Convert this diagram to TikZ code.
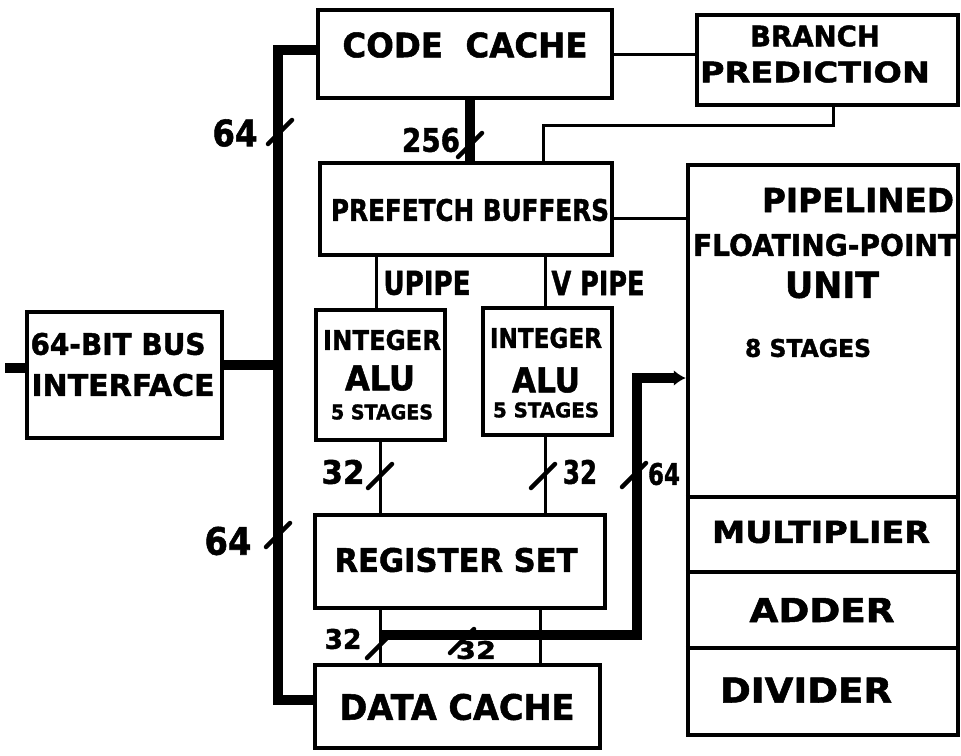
\documentclass[tikz,border=0pt]{standalone}
\usepackage{fontspec}
\setmainfont[BoldFeatures={FakeBold=1.5}]{DejaVu Sans}
\usetikzlibrary{arrows.meta}
\newcommand{\hw}[3]{\resizebox{#1pt}{#2pt}{\bfseries #3}}
\begin{document}
\begin{tikzpicture}[x=1pt,y=-1pt,
  box/.style={draw, line width=4.5pt, inner sep=0pt},
  wire/.style={line width=3pt},
  bus/.style={line width=10pt},
  tickmark/.style={line width=4.5pt, line cap=round},
  lbl/.style={inner sep=0pt}]
\useasboundingbox (0,0) rectangle (961,755);
% boxes
\node[box, minimum width=294pt, minimum height=88pt] (cc) at (465,54) {};
\node[box, minimum width=261pt, minimum height=90pt] (bp) at (827.5,60) {};
\node[box, minimum width=292pt, minimum height=92pt] (pf) at (466,209) {};
\node[box, minimum width=129pt, minimum height=130pt] (alu1) at (380.5,375) {};
\node[box, minimum width=129pt, minimum height=127pt] (alu2) at (547.5,371.5) {};
\node[box, minimum width=290pt, minimum height=93pt] (rs) at (460,561.5) {};
\node[box, minimum width=285pt, minimum height=83pt] (dc) at (457.5,706.5) {};
\node[box, minimum width=270pt, minimum height=570pt] (fpu) at (823,450) {};
\node[box, minimum width=195pt, minimum height=126pt] (biu) at (124.5,375) {};
% fpu dividers
\draw[line width=4.5pt] ([yshift=-47pt]fpu.west) -- ([yshift=-47pt]fpu.east);
\draw[line width=4.5pt] ([yshift=-122pt]fpu.west) -- ([yshift=-122pt]fpu.east);
\draw[line width=4.5pt] ([yshift=-198pt]fpu.west) -- ([yshift=-198pt]fpu.east);
% texts
\node[lbl] (tcc) at (465,45) {\hw{245}{25}{CODE\ \ CACHE}};
\node[lbl] (tbp1) at (815,36) {\hw{130}{21}{BRANCH}};
\node[lbl] (tbp2) at (815,72) {\hw{230}{21}{PREDICTION}};
\node[lbl] (tpf) at (470,210) {\hw{278}{22}{PREFETCH BUFFERS}};
\node[lbl] (tup) at (427,283) {\hw{87}{24}{UPIPE}};
\node[lbl] (tvp) at (598,283) {\hw{93}{24}{V PIPE}};
\node[lbl] (ta1a) at (382,340) {\hw{118}{20}{INTEGER}};
\node[lbl] (ta1b) at (380,378) {\hw{70}{25}{ALU}};
\node[lbl] (ta1c) at (382,412) {\hw{102}{15}{5 STAGES}};
\node[lbl] (ta2a) at (546,338) {\hw{112}{20}{INTEGER}};
\node[lbl] (ta2b) at (546,380) {\hw{68}{25}{ALU}};
\node[lbl] (ta2c) at (546,410) {\hw{106}{15}{5 STAGES}};
\node[lbl] (tbi1) at (118,344) {\hw{175}{22}{64-BIT BUS}};
\node[lbl] (tbi2) at (123,385) {\hw{183}{22}{INTERFACE}};
\node[lbl] (tf1) at (858,200) {\hw{192}{24}{PIPELINED}};
\node[lbl] (tf2) at (825,245) {\hw{264}{22}{FLOATING-POINT}};
\node[lbl] (tf3) at (832,285) {\hw{94}{26}{UNIT}};
\node[lbl] (tf4) at (808,348) {\hw{126}{18}{8 STAGES}};
\node[lbl] (tm) at (821,532) {\hw{218}{22}{MULTIPLIER}};
\node[lbl] (tad) at (822,610) {\hw{145}{24}{ADDER}};
\node[lbl] (tdv) at (806,690) {\hw{172}{25}{DIVIDER}};
\node[lbl] (trs) at (456,560) {\hw{243}{24}{REGISTER SET}};
\node[lbl] (tdc) at (457,707) {\hw{235}{26}{DATA CACHE}};
% bus labels
\node[lbl] (l64a) at (235,133) {\hw{45}{27}{64}};
\node[lbl] (l256) at (431,140) {\hw{58}{24}{256}};
\node[lbl] (l64b) at (228,541) {\hw{47}{28}{64}};
\node[lbl] (l32a) at (343,472) {\hw{43}{24}{32}};
\node[lbl] (l32b) at (580,472) {\hw{34}{24}{32}};
\node[lbl] (l64c) at (664,474) {\hw{32}{22}{64}};
\node[lbl] (l32c) at (343,639) {\hw{37}{20}{32}};
\node[lbl] (l32d) at (476,650) {\hw{40}{18}{32}};
% coordinates
\coordinate (btop) at (278,50);
\coordinate (bbot) at (278,700);
\coordinate (bj) at (278,365);
\coordinate (ext) at (5,368);
\coordinate (c256) at (470,0);
\coordinate (bpa) at (833,125);
\coordinate (bpb) at (543,125);
\coordinate (pff) at (0,218);
\coordinate (ux) at (376,0);
\coordinate (vx) at (545,0);
\coordinate (rx1) at (380,0);
\coordinate (rx2) at (540,0);
\coordinate (f1) at (380,635);
\coordinate (f2) at (637,635);
\coordinate (f3) at (637,378);
% connectors
\draw[bus] (cc.west |- btop) -- (btop) -- (bbot) -- (dc.west |- bbot);
\draw[bus] (biu.east |- bj) -- (bj);
\draw[bus] (ext) -- (ext -| biu.west);
\draw[bus] (cc.south -| c256) -- (pf.north -| c256);
\draw[wire] (cc.east) -- (cc.east -| bp.west);
\draw[wire] (bp.south -| bpa) -- (bpa) -- (bpb) -- (pf.north -| bpb);
\draw[wire] (pf.east |- pff) -- (fpu.west |- pff);
\draw[wire] (pf.south -| ux) -- (alu1.north -| ux);
\draw[wire] (pf.south -| vx) -- (alu2.north -| vx);
\draw[wire] (alu1.south -| rx1) -- (rs.north -| rx1);
\draw[wire] (alu2.south -| vx) -- (rs.north -| vx);
\draw[wire] (rs.south -| rx1) -- (dc.north -| rx1);
\draw[wire] (rs.south -| rx2) -- (dc.north -| rx2);
\draw[bus, -{Latex[length=12pt,width=16pt]}] (f1) -- (f2) -- (f3) -- (fpu.west |- f3);
% slash ticks
\coordinate (k1) at (280,132);
\coordinate (k2) at (278,535);
\coordinate (k3) at (470,145);
\coordinate (k4) at (380,476);
\coordinate (k5) at (543,476);
\coordinate (k6) at (634,475);
\coordinate (k7) at (379,646);
\coordinate (k8) at (462,641);
\foreach \k in {k1,k2,k3,k4,k5,k6,k7,k8}
  \draw[tickmark] ([shift={(-12pt,-12pt)}]\k) -- ([shift={(12pt,12pt)}]\k);
\end{tikzpicture}
\end{document}
